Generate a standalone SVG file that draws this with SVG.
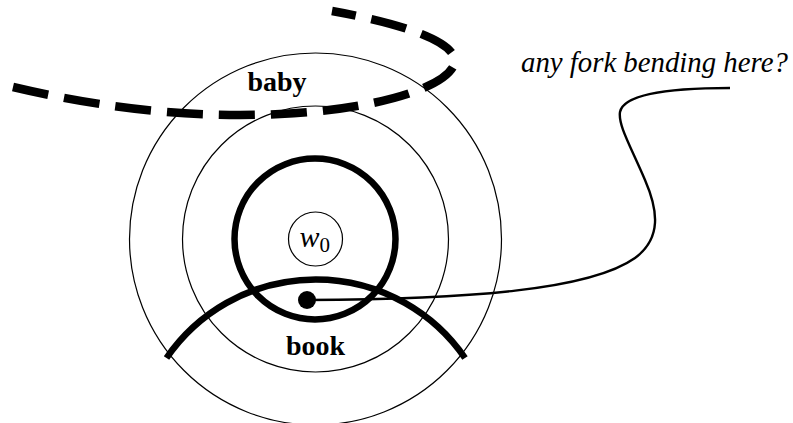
<svg xmlns="http://www.w3.org/2000/svg" width="793" height="423" viewBox="0 0 793 423">
<style>
.thin{fill:none;stroke:#000;stroke-width:1.2}
.bold{fill:none;stroke:#000;stroke-width:6.5}
</style>
<rect width="793" height="423" fill="#fff"/>
<g id="rings">
<circle class="thin" cx="315.5" cy="239" r="186"/>
<circle class="thin" cx="315.5" cy="239" r="133"/>
</g>
<g id="bold-circle"><circle class="bold" cx="315" cy="239" r="80.5"/></g>
<g id="w0">
<circle class="thin" cx="315.5" cy="239" r="27"/>
<text font-family="Liberation Serif, Times New Roman, serif" font-style="italic" x="299.5" y="247" font-size="30">w</text>
<text font-family="Liberation Serif, Times New Roman, serif" x="319.5" y="252" font-size="21">0</text>
</g>
<g id="book">
<path class="bold" d="M166.5,358 A181,181 0 0 1 465,358"/>
<text font-family="Liberation Serif, Times New Roman, serif" font-weight="bold" font-size="28" text-anchor="middle" x="315.5" y="355">book</text>
</g>
<g id="baby">
<path d="M13,87 C110,110 200,118 280,114 C370,110 440,90 453,67 C465,45 410,25 332,11" fill="none" stroke="#000" stroke-width="8.5" stroke-dasharray="36 16"/>
<text font-family="Liberation Serif, Times New Roman, serif" font-weight="bold" font-size="28" text-anchor="middle" x="277" y="91">baby</text>
</g>
<g id="question">
<text font-family="Liberation Serif, Times New Roman, serif" font-style="italic" x="521" y="72" font-size="28.8">any fork bending here?</text>
</g>
<g id="connectors">
<path d="M307,300 C470,299 590,290 635,258 C662,238 658,210 645,180 C630,145 618,125 620,112 C624,92 680,88 730,88" fill="none" stroke="#000" stroke-width="2.4"/>
<circle cx="307" cy="300" r="9" fill="#000"/>
</g>
</svg>
